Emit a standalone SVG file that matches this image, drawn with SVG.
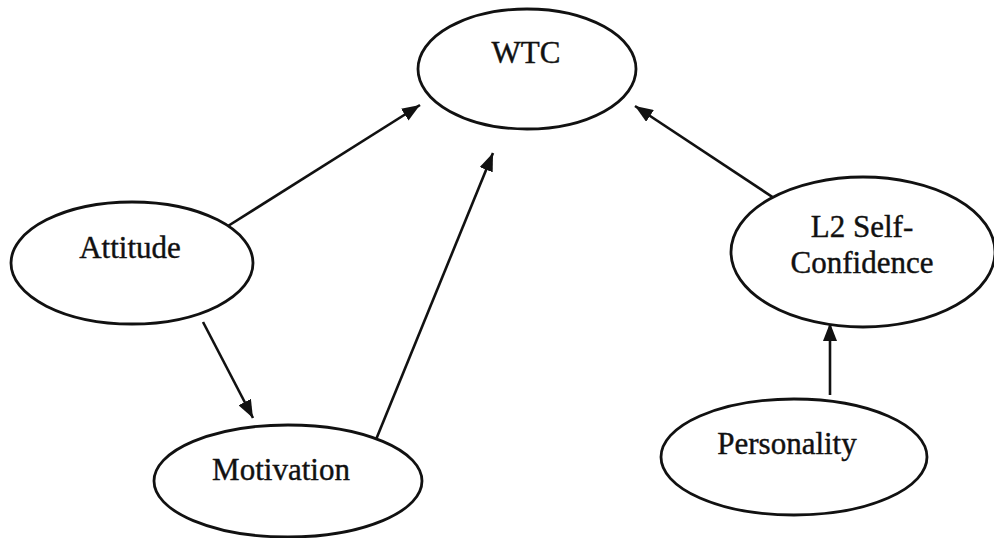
<svg xmlns="http://www.w3.org/2000/svg" width="994" height="538" viewBox="0 0 994 538">
<defs>
<style>
.node ellipse{fill:#fff;stroke:#111;stroke-width:2.8}
.node text{font-family:"Liberation Serif","Times New Roman",serif;font-size:31px;fill:#111;stroke:#111;stroke-width:0.4;text-anchor:middle}
.edge{stroke:#111;stroke-width:2.6;fill:none;marker-end:url(#arr)}
</style>
<marker id="arr" viewBox="0 0 18 14" refX="18" refY="7" markerWidth="18" markerHeight="14" markerUnits="userSpaceOnUse" orient="auto">
<path d="M0,0 L18,7 L0,14 Z" fill="#111"/>
</marker>
</defs>
<rect width="994" height="538" fill="#fff"/>
<g id="connectors">
<line class="edge" x1="228" y1="226" x2="420" y2="105"/>
<line class="edge" x1="375" y1="442" x2="493" y2="153"/>
<line class="edge" x1="203" y1="322" x2="253" y2="418"/>
<line class="edge" x1="780" y1="202" x2="635" y2="106"/>
<line class="edge" x1="830" y1="395" x2="830" y2="323"/>
</g>
<g id="wtc" class="node">
<ellipse cx="527" cy="69" rx="109" ry="60"/>
<text x="526" y="63">WTC</text>
</g>
<g id="attitude" class="node">
<ellipse cx="132" cy="263" rx="121" ry="61"/>
<text x="130" y="258">Attitude</text>
</g>
<g id="motivation" class="node">
<ellipse cx="288" cy="481" rx="134" ry="56"/>
<text x="281" y="480">Motivation</text>
</g>
<g id="l2selfconfidence" class="node">
<ellipse cx="863" cy="252" rx="132" ry="75"/>
<text x="862" y="237">L2 Self-</text>
<text x="862" y="273">Confidence</text>
</g>
<g id="personality" class="node">
<ellipse cx="794" cy="457" rx="133" ry="58"/>
<text x="787" y="454">Personality</text>
</g>
</svg>
